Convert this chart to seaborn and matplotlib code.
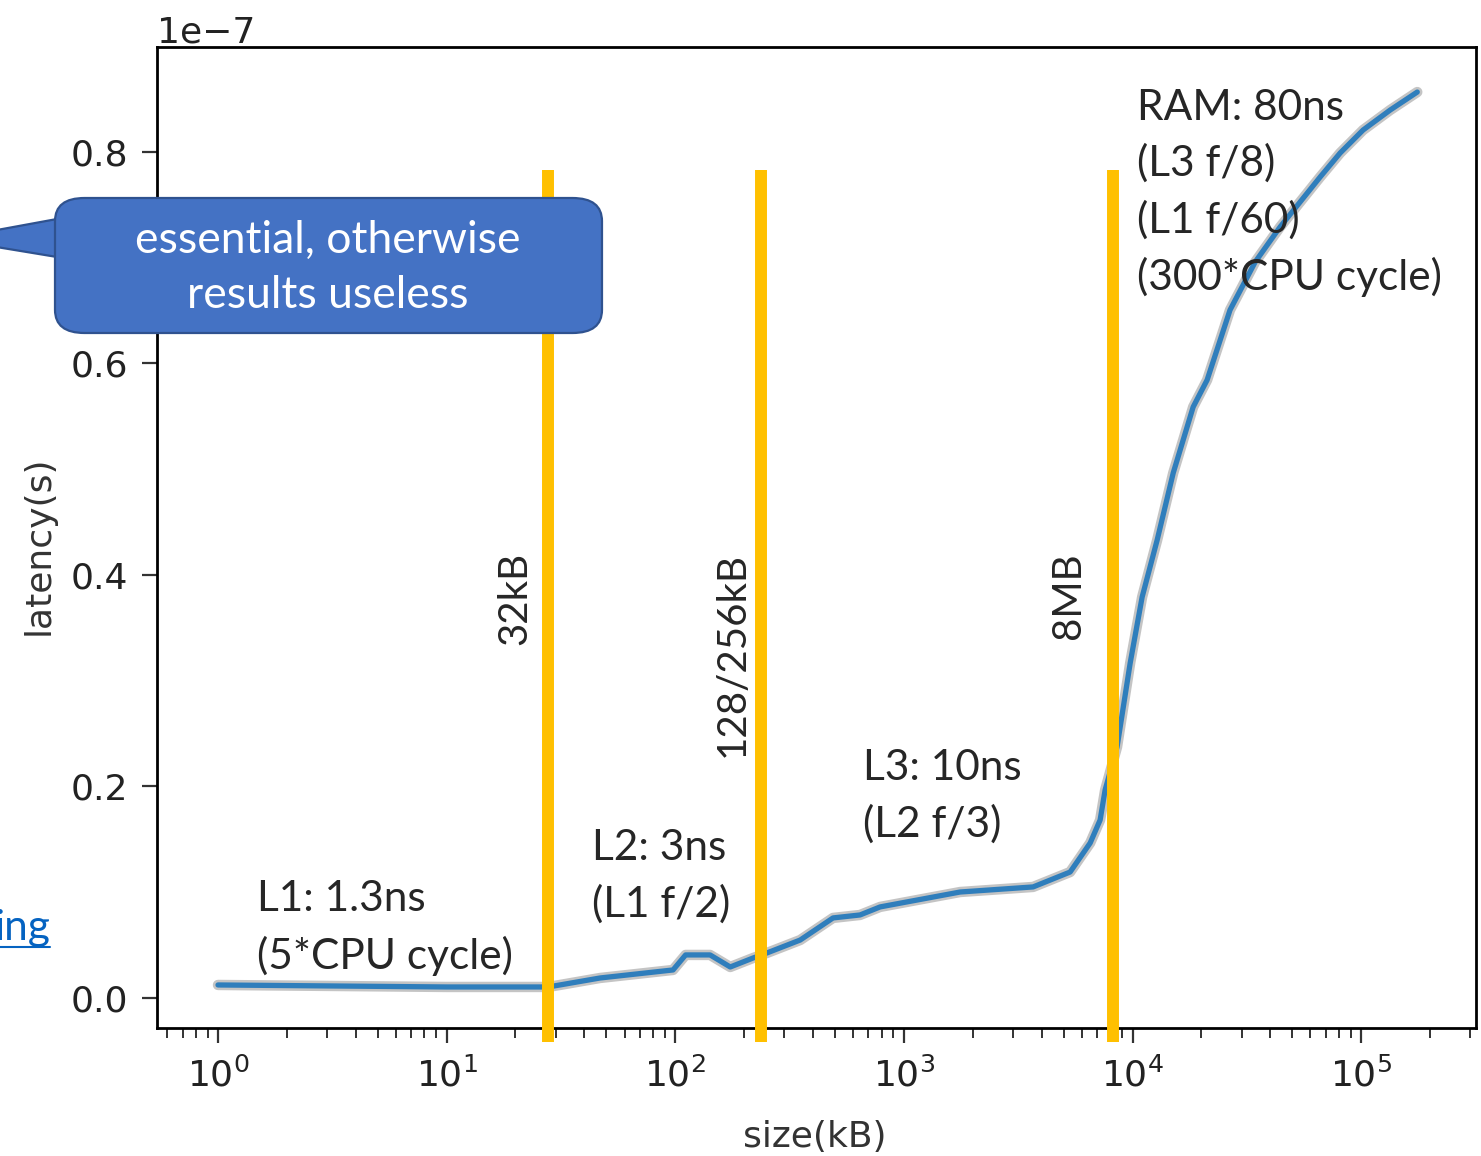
import matplotlib
matplotlib.use('Agg')
import matplotlib.pyplot as plt
import matplotlib.patheffects as pe
import matplotlib.ticker as mticker
from matplotlib.patches import FancyBboxPatch, Polygon
from matplotlib.lines import Line2D
import numpy as np
import pandas as pd
import seaborn as sns

# %% data: working-set size (kB) vs access latency (s)
size_kb = [1, 10, 27.8, 31.3, 46.9, 97.8, 111, 142, 174, 219, 252, 352, 490, 643,
           787, 1762, 3675, 5335, 6530, 7217, 7590, 8560, 9770, 11020, 12820,
           15070, 18420, 21200, 26700, 34400, 44200, 66200, 80900, 102000,
           134000, 176000]
latency_e7 = [0.0123, 0.0104, 0.0104, 0.0123, 0.0189, 0.0265, 0.0407, 0.0407,
              0.0293, 0.0378, 0.0426, 0.0548, 0.0757, 0.0785, 0.0861, 0.1002,
              0.1050, 0.1191, 0.1466, 0.1683, 0.1967, 0.2374, 0.3168, 0.3792,
              0.4331, 0.4965, 0.5589, 0.5844, 0.6506, 0.6960, 0.7291, 0.7764,
              0.7990, 0.8208, 0.8397, 0.8567]
# cache boundaries (kB) and their labels
cache_kb = [27.8, 237, 8192]
cache_labels = ['32kB', '128/256kB', '8MB']
level_texts = ['L1: 1.3ns\n(5*CPU cycle)', 'L2: 3ns\n(L1 f/2)', 'L3: 10ns\n(L2 f/3)',
               'RAM: 80ns\n(L3 f/8)\n(L1 f/60)\n(300*CPU cycle)']
callout_text = 'essential, otherwise\nresults useless'

df = pd.DataFrame({'size': size_kb, 'latency': np.array(latency_e7) * 1e-7})

# %% figure
sns.set_style('ticks')
plt.rcParams['font.family'] = ['DejaVu Sans']
W, H = 1481, 1156
fig = plt.figure(figsize=(W / 100, H / 100), dpi=100)
ax = fig.add_axes([157 / W, 1 - 1028 / H, (1476 - 157) / W, (1028 - 47) / H])

def fx(x):
  return x / W
def fy(y):
  return 1 - y / H

sns.lineplot(data=df, x='size', y='latency', ax=ax, color='#2f7ebc', lw=3.8,
             path_effects=[pe.Stroke(linewidth=7.5, foreground='#c4c4c4'), pe.Normal()])
ax.set_xscale('log')
ax.set_xlim(0.541, 318000)
ax.set_ylim(-0.0284e-7, 0.8993e-7)
ax.set_yticks([0, 0.2e-7, 0.4e-7, 0.6e-7, 0.8e-7])
yfmt = mticker.ScalarFormatter()
yfmt.set_powerlimits((-7, -7))  # force the 1e-7 offset like the original
ax.yaxis.set_major_formatter(yfmt)

for s in ax.spines.values():
  s.set_color('black')
  s.set_linewidth(2)
ax.tick_params(which='major', direction='out', length=11, width=1.6, colors='#333',
               labelsize=26, pad=10, labelcolor='#222')
ax.tick_params(which='minor', direction='out', length=7, width=1.4, colors='#333')
ax.yaxis.get_offset_text().set_fontsize(26)
ax.yaxis.get_offset_text().set_color('#222')

ax.set_xlabel('size(kB)', fontsize=26, color='#333')
ax.set_ylabel('latency(s)', fontsize=26, color='#333')
ax.xaxis.set_label_coords(0.499, -0.094)
ax.yaxis.set_label_coords(-0.077, 0.492)

# yellow boundary lines sticking out below the axes
for xv in cache_kb:
  ax.axvline(xv, ymin=-0.0143, ymax=0.8746, color='#FFC000', lw=8.6,
             solid_capstyle='butt', clip_on=False, zorder=5)

# slide annotations (pixel positions)
tfont = ['Lato', 'DejaVu Sans']
lab_x = [515, 732, 1068]
for xp, t in zip(lab_x, cache_labels):
  fig.text(fx(xp), fy(552), t, rotation=90, ha='center', va='top', fontsize=29,
           family=tfont, zorder=6)

lev_pos = [(257, 928), (592, 876), (863, 796), (1137, 193)]
for (xp, yp), t in zip(lev_pos, level_texts):
  fig.text(fx(xp), fy(yp), t, ha='left', va='center', fontsize=30.5, family=tfont,
           linespacing=1.53, zorder=6)

# callout box
box = FancyBboxPatch((fx(55), fy(333)), fx(602) - fx(55), fy(198) - fy(333),
                     boxstyle='round,pad=0,rounding_size=0.02',
                     transform=fig.transFigure, facecolor='#4472C4',
                     edgecolor='#2F528F', lw=1.6, zorder=10)
tail = Polygon([(fx(57), fy(219)), (fx(-52), fy(239)), (fx(57), fy(257))],
               closed=True, transform=fig.transFigure, facecolor='#4472C4',
               edgecolor='#2F528F', lw=1.6, zorder=9)
fig.patches.extend([tail, box])
fig.text(fx(328), fy(268), callout_text, ha='center', va='center', fontsize=32,
         color='white', family=tfont, linespacing=1.42, zorder=11)

# cut-off hyperlink fragment on the left
fig.text(fx(50), fy(928), 'ing', ha='right', va='center', fontsize=30.5,
         color='#0563C1', family=tfont)
fig.lines.append(Line2D([0, fx(50)], [fy(947), fy(947)], transform=fig.transFigure,
                        color='#0563C1', lw=1.5))

fig.savefig('out.png', dpi=100)
